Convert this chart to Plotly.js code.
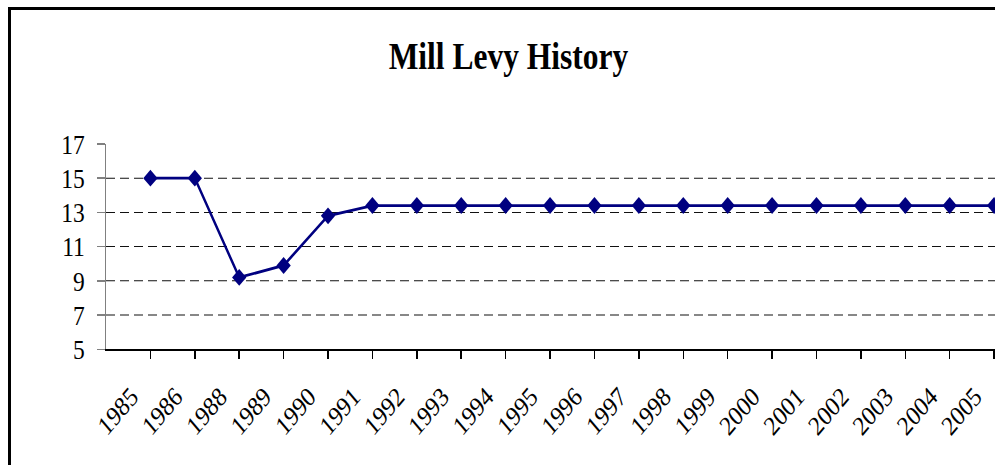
<!DOCTYPE html>
<html>
<head>
<meta charset="utf-8">
<script src="https://cdn.plot.ly/plotly-3.0.1.min.js"></script>
<style>
  html, body { margin: 0; padding: 0; background: #fff; overflow: hidden; }
  #chart { width: 995px; height: 394px; position: absolute; left: 0; top: 0;
           transform: scaleY(1.18); transform-origin: 0 0; }
  #frame { position: absolute; left: 8px; top: 7px; width: 1000px; height: 470px;
           border-left: 3px solid #000; border-top: 3px solid #000; pointer-events: none; }
</style>
</head>
<body>
<div id="chart"></div>
<div id="frame"></div>
<script>
const years = ["1985","1986","1988","1989","1990","1991","1992","1993","1994","1995",
               "1996","1997","1998","1999","2000","2001","2002","2003","2004","2005"];
const millLevy = [15, 15, 9.2, 9.9, 12.8, 13.4, 13.4, 13.4, 13.4, 13.4,
                  13.4, 13.4, 13.4, 13.4, 13.4, 13.4, 13.4, 13.4, 13.4, 13.4];
const yTicks = [5, 7, 9, 11, 13, 15, 17];

const trace = {
  x: years,
  y: millLevy,
  type: "scatter",
  mode: "lines+markers",
  line: { color: "#000080", width: 2.4 },
  marker: { symbol: "diamond", size: 11, color: "#000080" },
  hoverinfo: "x+y"
};

const layout = {
  width: 995,
  height: 394,
  margin: { l: 106, r: 0, t: 122, b: 98.3 },
  paper_bgcolor: "#ffffff",
  plot_bgcolor: "#ffffff",
  showlegend: false,
  font: { family: "Liberation Serif, Times New Roman, serif", color: "#000" },
  title: {
    text: "<b>Mill Levy History</b>",
    font: { family: "Liberation Serif, Times New Roman, serif", size: 31.5, color: "#000" },
    x: 0.511, xref: "container", xanchor: "center",
    y: 1 - 47.5 / 394, yref: "container", yanchor: "middle"
  },
  xaxis: {
    type: "category",
    range: [-1, 19.02],
    showgrid: false,
    zeroline: false,
    showline: true,
    linecolor: "#000",
    linewidth: 1.3,
    ticks: "outside",
    ticklen: 7,
    tickwidth: 1.5,
    tickcolor: "#000",
    tickangle: -45,
    ticklabelstandoff: 9,
    ticklabelshift: -19,
    tickfont: { size: 23, color: "#000" },
    fixedrange: true
  },
  yaxis: {
    range: [5, 17],
    tickvals: yTicks,
    ticktext: yTicks.map(String),
    showgrid: true,
    gridcolor: "#111",
    gridwidth: 0.85,
    griddash: "9px,5px",
    zeroline: false,
    showline: true,
    linecolor: "#808080",
    linewidth: 1.5,
    ticks: "outside",
    ticklen: 8,
    tickwidth: 1.3,
    tickcolor: "#808080",
    ticklabelstandoff: 7,
    tickfont: { size: 23.5, color: "#000" },
    fixedrange: true
  }
};

Plotly.newPlot("chart", [trace], layout, { displayModeBar: false, staticPlot: true });
</script>
</body>
</html>
